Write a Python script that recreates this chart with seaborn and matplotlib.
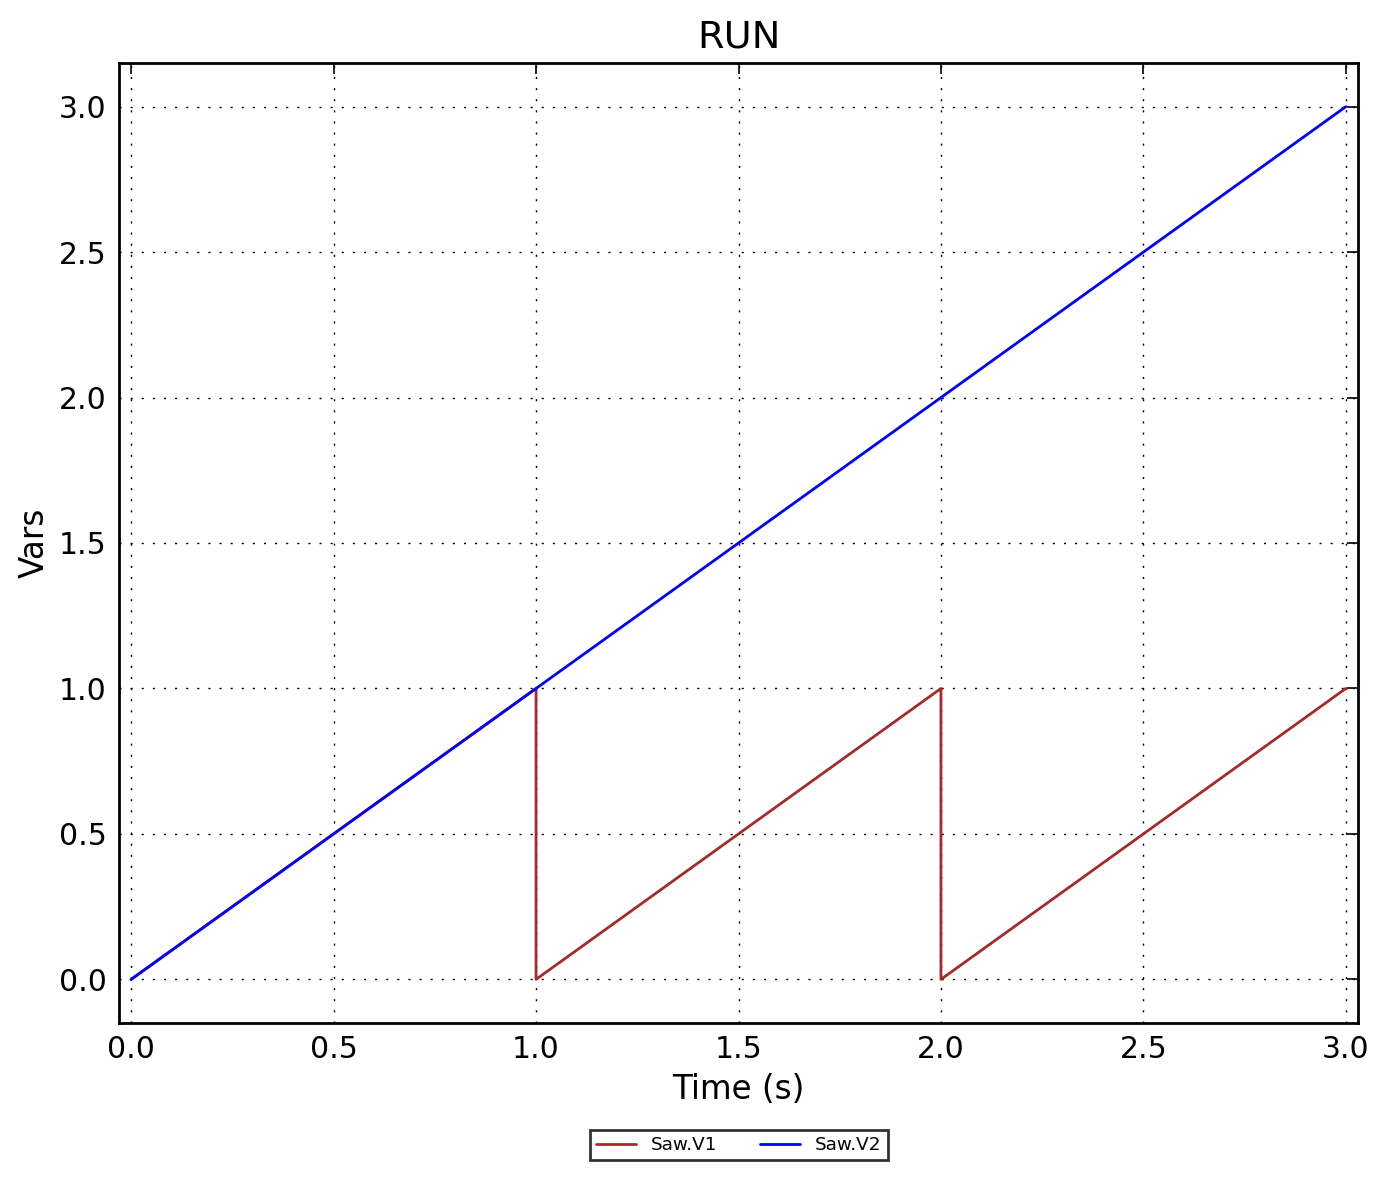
import numpy as np
import pandas as pd
import matplotlib
matplotlib.use("Agg")
import matplotlib.pyplot as plt
import seaborn as sns

# Data
v1_time = [0.0, 1.0, 1.0, 2.0, 2.0, 3.0]
v1_vals = [0.0, 1.0, 0.0, 1.0, 0.0, 1.0]
v2_time = [0.0, 3.0]
v2_vals = [0.0, 3.0]
series_names = ["Saw.V1", "Saw.V2"]
series_colors = ["#a52a2a", "#0000ff"]
tick_values = [0.0, 0.5, 1.0, 1.5, 2.0, 2.5, 3.0]
tick_labels = ["0.0", "0.5", "1.0", "1.5", "2.0", "2.5", "3.0"]

df = pd.concat([
    pd.DataFrame({"Time": v1_time, "Value": v1_vals, "Series": series_names[0]}),
    pd.DataFrame({"Time": v2_time, "Value": v2_vals, "Series": series_names[1]}),
], ignore_index=True)

sns.set_theme(style="white")
plt.rcParams["font.family"] = ["DejaVu Sans"]

fig = plt.figure(figsize=(13.9, 11.79), dpi=100)
ax = fig.add_axes([119/1390, 1 - 1023/1179, (1358-119)/1390, (1023-63)/1179])

sns.lineplot(data=df, x="Time", y="Value", hue="Series", hue_order=series_names,
             palette=series_colors, estimator=None, sort=False,
             linewidth=2, ax=ax)

ax.set_xlim(-0.03, 3.03)
ax.set_ylim(-0.15, 3.15)
ax.set_xticks(tick_values)
ax.set_yticks(tick_values)
ax.set_xticklabels(tick_labels)
ax.set_yticklabels(tick_labels)
ax.grid(True, color="black", linestyle=(0, (1.5, 6.5)), linewidth=1.0)
ax.tick_params(direction="in", length=8, width=1.2, top=True, right=True,
               labelsize=21.5, pad=9, colors="black")
for s in ax.spines.values():
    s.set_visible(True)
    s.set_color("black")
    s.set_linewidth(2)

ax.set_xlabel("Time (s)", fontsize=23.5, color="black", labelpad=6)
ax.set_ylabel("Vars", fontsize=23.5, color="black", labelpad=6)
ax.set_title("RUN", fontsize=27.5, color="black", pad=11)

leg = ax.legend(loc="upper center", bbox_to_anchor=(0.5, -0.1015), ncol=2,
                fontsize=13.2, frameon=True, fancybox=False, borderpad=0.35,
                columnspacing=2.3, handlelength=2.2)
leg.get_frame().set_edgecolor("black")
leg.get_frame().set_linewidth(2)
for t in leg.get_texts():
    t.set_color("black")

fig.savefig("out.png", dpi=100)
